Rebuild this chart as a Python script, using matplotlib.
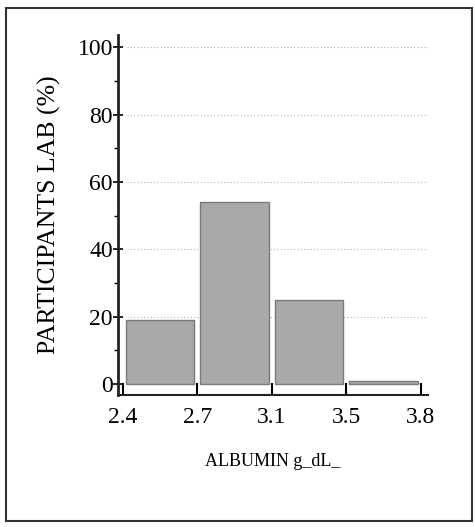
import matplotlib
matplotlib.use("Agg")
import matplotlib.pyplot as plt
from matplotlib.patches import Rectangle
from matplotlib.ticker import MultipleLocator

edges = ["2.4", "2.7", "3.1", "3.5", "3.8"]
percent = [19, 54, 25, 1]

plt.rcParams['font.family'] = ['Liberation Serif', 'DejaVu Serif']

fig = plt.figure(figsize=(4.75, 5.27), dpi=100)
ax = fig.add_axes([0.248, 0.2505, 0.653, 0.683])

pos = [i + 0.5 for i in range(len(percent))]
ax.bar(pos, percent, width=0.92, color="#a9a9a9", edgecolor="#7a7a7a",
       linewidth=1.0, zorder=2)

ax.set_xlim(-0.07, 4.1)
ax.set_ylim(-3.3, 103.6)
ax.set_xticks(range(len(edges)))
ax.set_xticklabels(edges, fontsize=17)
ax.set_yticks([0, 20, 40, 60, 80, 100])
ax.yaxis.set_minor_locator(MultipleLocator(10))
ax.tick_params(axis='y', which='major', direction='inout', length=7, width=1.2,
               labelsize=17, pad=0)
ax.tick_params(axis='y', which='minor', direction='out', length=3, width=1.0)
ax.tick_params(axis='x', which='major', direction='in', length=9, width=1.5,
               labelsize=17, pad=9)

for y in [20, 40, 60, 80, 100]:
    ax.plot([0.05, 4.1], [y, y], linestyle=(0, (1, 2)), color="#b5b5b5",
            linewidth=0.8, zorder=1)

ax.spines['top'].set_visible(False)
ax.spines['right'].set_visible(False)
ax.spines['left'].set_linewidth(2.0)
ax.spines['bottom'].set_linewidth(1.5)
ax.spines['left'].set_color("#222222")
ax.spines['bottom'].set_color("#222222")

ax.set_ylabel("PARTICIPANTS LAB (%)", fontsize=18.5, labelpad=12)
ax.set_xlabel("ALBUMIN g_dL_", fontsize=13, labelpad=18)

fig.patches.append(Rectangle((6/475, 1-521/527), 466/475, 513/527,
                             transform=fig.transFigure, fill=False,
                             edgecolor="#333333", linewidth=1.5))

fig.savefig("out.png", dpi=100)
